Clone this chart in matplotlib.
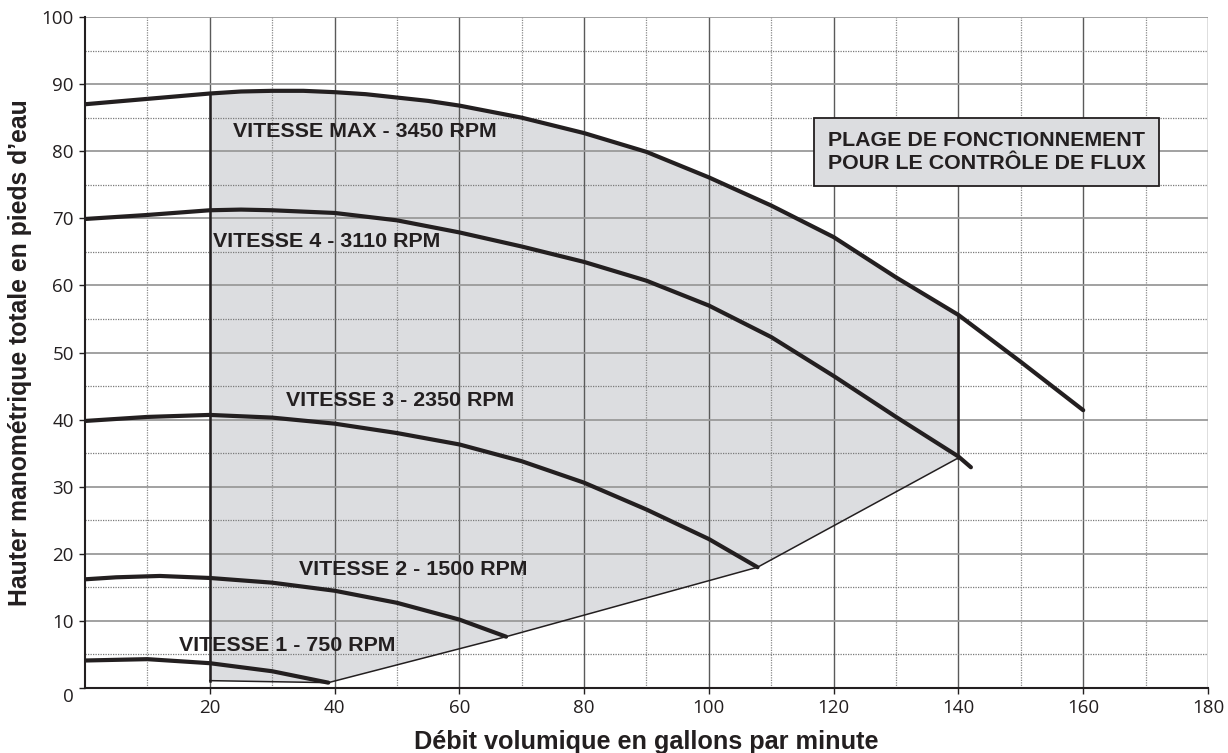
import matplotlib
matplotlib.use("Agg")
import matplotlib.pyplot as plt
import numpy as np

# curves (flow in gpm, head in ft)
max_x = [0, 10, 20, 25, 30, 35, 40, 45, 50, 55, 60, 70, 80, 90, 100, 110, 120, 130, 140, 150, 160]
max_y = [87.0, 87.8, 88.6, 88.9, 89.0, 89.0, 88.8, 88.5, 88.0, 87.5, 86.8, 85.0, 82.7, 79.9, 76.1, 71.9, 67.2, 61.2, 55.6, 48.6, 41.4]

v4_x = [0, 10, 20, 25, 30, 40, 50, 60, 70, 80, 90, 100, 110, 120, 130, 140, 142]
v4_y = [69.9, 70.5, 71.2, 71.3, 71.2, 70.8, 69.7, 67.9, 65.8, 63.5, 60.7, 57.0, 52.3, 46.5, 40.4, 34.5, 32.9]

v3_x = [0, 10, 20, 30, 40, 50, 60, 70, 80, 90, 100, 107.8]
v3_y = [39.8, 40.4, 40.7, 40.3, 39.4, 38.0, 36.3, 33.8, 30.6, 26.6, 22.2, 18.0]

v2_x = [0, 5, 12, 20, 30, 40, 50, 60, 67.5]
v2_y = [16.2, 16.5, 16.7, 16.4, 15.7, 14.5, 12.7, 10.2, 7.65]

v1_x = [0, 5, 10, 20, 30, 39]
v1_y = [4.1, 4.2, 4.3, 3.7, 2.5, 0.8]

# lower / side edge of the operating range (right to left)
edge_x = [140, 140, 107.8, 67.5, 39, 20]
edge_y = [55.6, 34.3, 18.0, 7.65, 0.8, 1.1]

labels = ["VITESSE MAX - 3450 RPM", "VITESSE 4 - 3110 RPM", "VITESSE 3 - 2350 RPM",
          "VITESSE 2 - 1500 RPM", "VITESSE 1 - 750 RPM"]
label_x = [23.7, 20.5, 32.2, 34.3, 15.1]
label_y = [83.0, 66.5, 42.9, 17.6, 6.4]

dark = "#231f20"
fill = "#dcdde0"

fig = plt.figure(figsize=(12.28, 7.53), dpi=100)
ax = fig.add_axes([0.0692, 0.0863, 0.9145, 0.8911])
ax.set_xlim(0, 180)
ax.set_ylim(0, 100)

# shaded operating range (under the grid)
mx = np.array(max_x)
my = np.array(max_y)
sel = (mx >= 20) & (mx <= 140)
poly_x = list(mx[sel]) + edge_x[1:]
poly_y = list(my[sel]) + edge_y[1:]
ax.fill(poly_x, poly_y, color=fill, zorder=0.5, lw=0)

# grid
for gx in range(10, 181, 10):
    if gx % 20 == 0:
        ax.axvline(gx, color="#5a5a5a", lw=1.0, zorder=1)
    else:
        ax.axvline(gx, color="#8a8a8a", lw=0.9, ls=(0, (1, 1)), zorder=1)
for gy in range(5, 101, 5):
    if gy % 10 == 0:
        ax.axhline(gy, color="#9a9a9a", lw=1.3, zorder=1)
    else:
        ax.axhline(gy, color="#7a7a7a", lw=0.9, ls=(0, (1, 1)), zorder=1)

# range edges
ax.plot([20, 20], [edge_y[-1], max_y[max_x.index(20)]], color=dark, lw=1.8, zorder=4)
ax.plot(edge_x[:2], edge_y[:2], color=dark, lw=1.8, zorder=4)
ax.plot(edge_x[1:], edge_y[1:], color=dark, lw=1.1, zorder=4)

# pump curves
for xs, ys in [(max_x, max_y), (v4_x, v4_y), (v3_x, v3_y), (v2_x, v2_y), (v1_x, v1_y)]:
    ax.plot(xs, ys, color=dark, lw=3.0, solid_joinstyle="round", solid_capstyle="round", zorder=5)

for t, lx, ly in zip(labels, label_x, label_y):
    ax.text(lx, ly, t, fontsize=15.4, fontweight="bold", family="Liberation Sans",
            color=dark, ha="left", va="center", zorder=6)

ax.text(144.5, 79.9, "PLAGE DE FONCTIONNEMENT\nPOUR LE CONTRÔLE DE FLUX",
        fontsize=15.4, fontweight="bold", family="Liberation Sans", color=dark,
        ha="center", va="center", linespacing=1.25, zorder=6,
        bbox=dict(boxstyle="square,pad=0.62", fc=fill, ec=dark, lw=1.3))

# axes styling
for s in ["top", "right"]:
    ax.spines[s].set_visible(False)
for s in ["left", "bottom"]:
    ax.spines[s].set_color(dark)
    ax.spines[s].set_linewidth(1.5)
    ax.spines[s].set_zorder(7)

ax.set_xticks(range(20, 181, 20))
ax.set_yticks(range(0, 101, 10))
ax.tick_params(axis="both", direction="out", length=4, width=1, color=dark,
               labelsize=13.5, labelcolor=dark, pad=4)
for lab in ax.get_xticklabels() + ax.get_yticklabels():
    lab.set_family("Open Sans")
ax.get_yticklabels()[0].set_verticalalignment("top")

ax.set_xlabel("Débit volumique en gallons par minute", fontsize=18.2, fontweight="bold",
              family="Liberation Sans", color=dark, labelpad=9)
ax.set_ylabel("Hauter manométrique totale en pieds d’eau", fontsize=17.8, fontweight="bold",
              family="Liberation Sans", color=dark, labelpad=7)

fig.savefig("out.png", dpi=100)
